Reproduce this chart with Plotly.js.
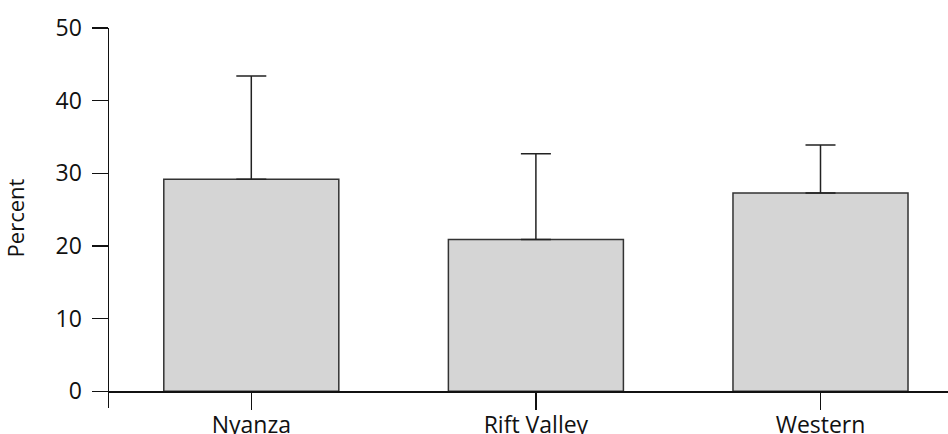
<!DOCTYPE html>
<html>
<head>
<meta charset="utf-8">
<script src="https://cdn.plot.ly/plotly-3.0.1.min.js"></script>
<style>html,body{margin:0;padding:0;background:#fff;}#chart{width:948px;height:434px;}</style>
</head>
<body>
<div id="chart"></div>
<script>
const regions = ["Nyanza", "Rift Valley", "Western"];
const percentValues = [29.2, 20.9, 27.3];
const upperErrors = [14.2, 11.8, 6.6];
const lowerErrors = [0, 0, 0];
const yTickValues = [0, 10, 20, 30, 40, 50];
const yAxisTitle = "Percent";

const FONT = "'Open Sans', 'Noto Sans', sans-serif";
const INK = "#111111";

const trace = {
  type: "bar",
  x: regions,
  y: percentValues,
  width: 0.615,
  marker: { color: "#d5d5d5", line: { color: "#333333", width: 1.5 } },
  error_y: {
    type: "data",
    symmetric: false,
    array: upperErrors,
    arrayminus: lowerErrors,
    color: "#222222",
    thickness: 1.5,
    width: 15
  },
  hoverinfo: "x+y"
};

const layout = {
  width: 948,
  height: 434,
  margin: { l: 109, r: 0, t: 28, b: 26, pad: 0 },
  paper_bgcolor: "#ffffff",
  plot_bgcolor: "#ffffff",
  font: { family: FONT, size: 22, color: INK },
  showlegend: false,
  xaxis: {
    type: "category",
    range: [-0.5, 2.448],
    anchor: "free",
    position: 2.3 / 52.3,
    showline: true,
    linecolor: INK,
    linewidth: 1.5,
    ticks: "outside",
    ticklen: 17,
    tickwidth: 1.5,
    tickcolor: INK,
    ticklabelstandoff: -4,
    showgrid: false,
    zeroline: false,
    automargin: false,
    tickfont: { family: FONT, size: 23, color: INK }
  },
  yaxis: {
    range: [-2.3, 50],
    tickvals: yTickValues,
    showline: true,
    linecolor: INK,
    linewidth: 1.5,
    ticks: "outside",
    ticklen: 16,
    tickwidth: 1.5,
    tickcolor: INK,
    ticklabelstandoff: 5,
    showgrid: false,
    zeroline: false,
    automargin: false,
    tickfont: { family: FONT, size: 23, color: INK },
    title: { text: yAxisTitle, font: { family: FONT, size: 22, color: INK }, standoff: 30 }
  }
};

Plotly.newPlot("chart", [trace], layout, { displayModeBar: false, staticPlot: true });
</script>
</body>
</html>
